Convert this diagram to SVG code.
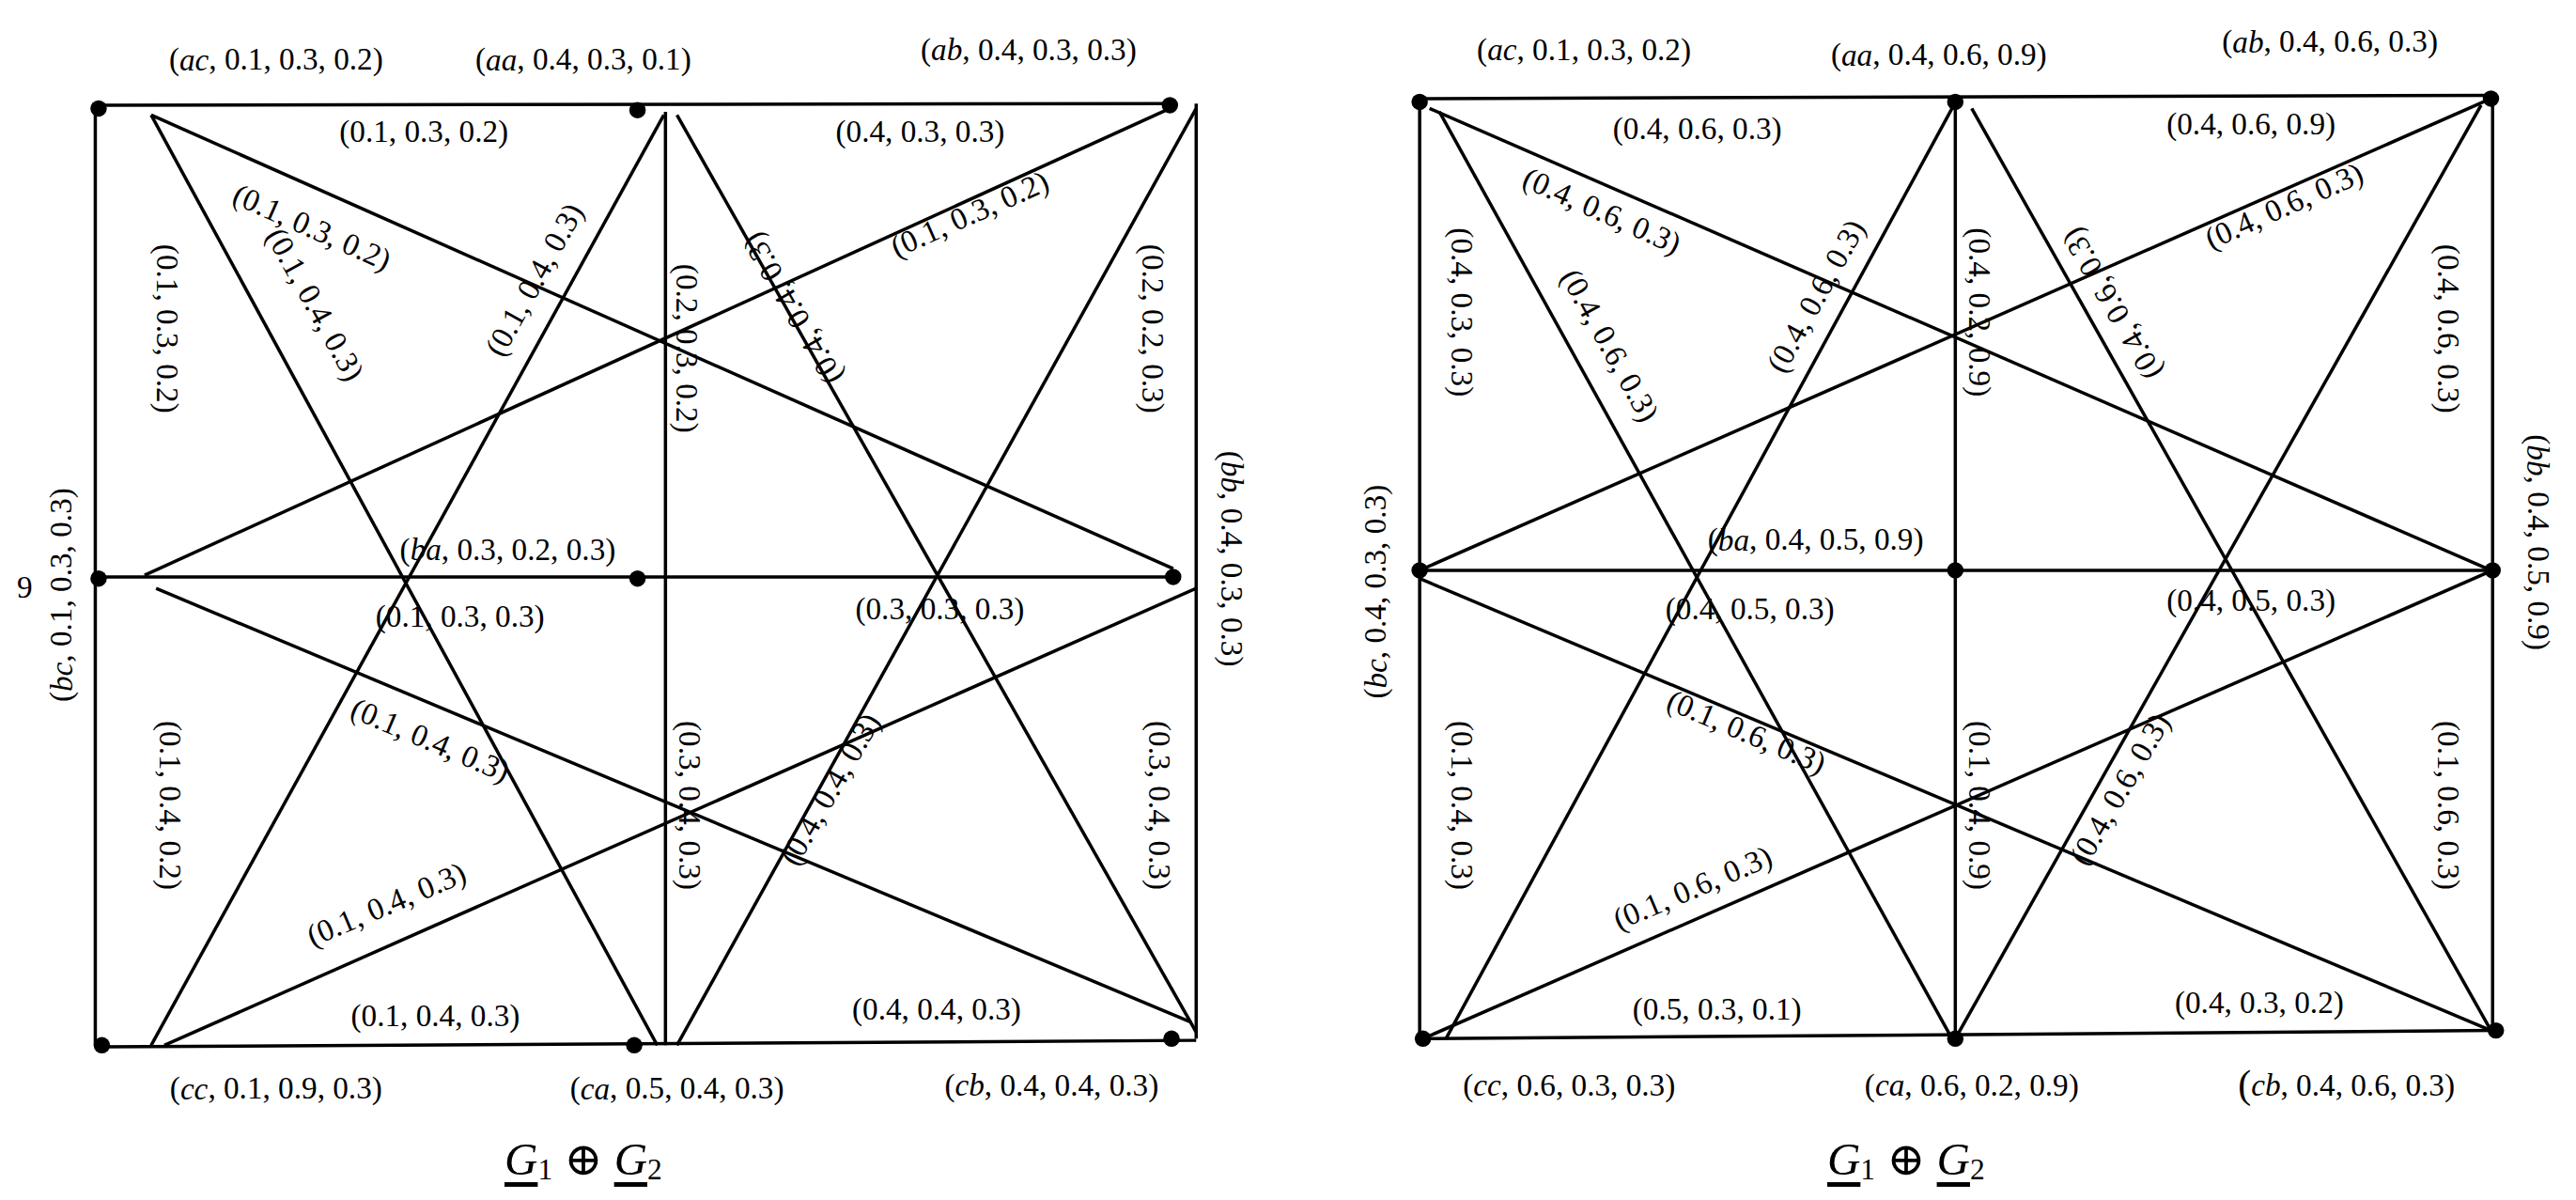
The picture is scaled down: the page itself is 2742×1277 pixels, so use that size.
<svg xmlns="http://www.w3.org/2000/svg" width="2742" height="1277" viewBox="0 0 2742 1277">
<style>
.e{stroke:#000;stroke-width:2;fill:none}
.n{fill:#000}
text{font-family:"Liberation Serif","DejaVu Serif",serif;font-size:19px;text-anchor:middle;dominant-baseline:central;fill:#000}
.t{font-size:28px}
</style>
<rect width="2742" height="1277" fill="#fff"/>
<g transform="scale(1.749)">
<g id="connectors">
<line class="e" x1="60" y1="64" x2="712" y2="63"/>
<line class="e" x1="58" y1="66" x2="58" y2="636"/>
<line class="e" x1="405" y1="68" x2="405" y2="636"/>
<line class="e" x1="728" y1="63" x2="728" y2="632"/>
<line class="e" x1="60" y1="351" x2="714" y2="351"/>
<line class="e" x1="62" y1="637" x2="728" y2="633"/>
<line class="e" x1="92" y1="70" x2="400" y2="636"/>
<line class="e" x1="404" y1="70" x2="92" y2="636"/>
<line class="e" x1="412" y1="70" x2="728" y2="628"/>
<line class="e" x1="728" y1="66" x2="412" y2="636"/>
<line class="e" x1="92" y1="70" x2="714" y2="346"/>
<line class="e" x1="88" y1="350" x2="712" y2="66"/>
<line class="e" x1="95" y1="358" x2="725" y2="622"/>
<line class="e" x1="100" y1="636" x2="728" y2="358"/>

<line class="e" x1="864" y1="60" x2="1516" y2="58"/>
<line class="e" x1="864" y1="62" x2="864" y2="632"/>
<line class="e" x1="1190" y1="62" x2="1190" y2="632"/>
<line class="e" x1="1517" y1="60" x2="1517" y2="627"/>
<line class="e" x1="864" y1="347" x2="1517" y2="347"/>
<line class="e" x1="866" y1="632" x2="1519" y2="627"/>
<line class="e" x1="876" y1="68" x2="1188" y2="632"/>
<line class="e" x1="1188" y1="66" x2="880" y2="632"/>
<line class="e" x1="1200" y1="66" x2="1516" y2="627"/>
<line class="e" x1="1510" y1="64" x2="1190" y2="632"/>
<line class="e" x1="870" y1="66" x2="1516" y2="347"/>
<line class="e" x1="864" y1="347" x2="1516" y2="60"/>
<line class="e" x1="864" y1="352" x2="1516" y2="627"/>
<line class="e" x1="866" y1="632" x2="1517" y2="347"/>
</g>
<g id="nodes">
<g id="L_ac"><circle class="n" cx="60" cy="66" r="5"/></g>
<g id="L_aa"><circle class="n" cx="388" cy="67" r="5"/></g>
<g id="L_ab"><circle class="n" cx="712" cy="64" r="5"/></g>
<g id="L_bc"><circle class="n" cx="60" cy="352" r="5"/></g>
<g id="L_ba"><circle class="n" cx="388" cy="352" r="5"/></g>
<g id="L_bb"><circle class="n" cx="714" cy="351" r="5"/></g>
<g id="L_cc"><circle class="n" cx="62" cy="636" r="5"/></g>
<g id="L_ca"><circle class="n" cx="386" cy="636" r="5"/></g>
<g id="L_cb"><circle class="n" cx="713" cy="632" r="5"/></g>
<g id="R_ac"><circle class="n" cx="864" cy="62" r="5"/></g>
<g id="R_aa"><circle class="n" cx="1190" cy="62" r="5"/></g>
<g id="R_ab"><circle class="n" cx="1516" cy="60" r="5"/></g>
<g id="R_bc"><circle class="n" cx="864" cy="347" r="5"/></g>
<g id="R_ba"><circle class="n" cx="1190" cy="347" r="5"/></g>
<g id="R_bb"><circle class="n" cx="1517" cy="347" r="5"/></g>
<g id="R_cc"><circle class="n" cx="866" cy="632" r="5"/></g>
<g id="R_ca"><circle class="n" cx="1190" cy="632" r="5"/></g>
<g id="R_cb"><circle class="n" cx="1519" cy="627" r="5"/></g>
</g>
<g id="labels">
<text x="168" y="36">(<tspan font-style="italic">ac</tspan>, 0.1, 0.3, 0.2)</text>
<text x="355" y="36">(<tspan font-style="italic">aa</tspan>, 0.4, 0.3, 0.1)</text>
<text x="626" y="30">(<tspan font-style="italic">ab</tspan>, 0.4, 0.3, 0.3)</text>
<text x="258" y="80">(0.1, 0.3, 0.2)</text>
<text x="560" y="80">(0.4, 0.3, 0.3)</text>
<text transform="translate(190,138) rotate(24)">(0.1, 0.3, 0.2)</text>
<text transform="translate(192,185) rotate(61)">(0.1, 0.4, 0.3)</text>
<text transform="translate(325,170) rotate(-61)">(0.1, 0.4, 0.3)</text>
<text transform="translate(102,200) rotate(90)">(0.1, 0.3, 0.2)</text>
<text transform="translate(418,212) rotate(90)">(0.2, 0.3, 0.2)</text>
<text transform="translate(482,188) rotate(240)">(0.4, 0.4, 0.3)</text>
<text transform="translate(590,130) rotate(-24)">(0.1, 0.3, 0.2)</text>
<text transform="translate(702,200) rotate(90)">(0.2, 0.2, 0.3)</text>
<text transform="translate(750,340) rotate(90)">(<tspan font-style="italic">bb</tspan>, 0.4, 0.3, 0.3)</text>
<text transform="translate(37,362) rotate(-90)">(<tspan font-style="italic">bc</tspan>, 0.1, 0.3, 0.3)</text>
<text x="15" y="357" font-size="26">9</text>
<text x="309" y="334">(<tspan font-style="italic">ba</tspan>, 0.3, 0.2, 0.3)</text>
<text x="280" y="375">(0.1, 0.3, 0.3)</text>
<text x="572" y="370">(0.3, 0.3, 0.3)</text>
<text transform="translate(104,490) rotate(90)">(0.1, 0.4, 0.2)</text>
<text transform="translate(262,450) rotate(23)">(0.1, 0.4, 0.3)</text>
<text transform="translate(420,490) rotate(90)">(0.3, 0.4, 0.3)</text>
<text transform="translate(505,480) rotate(-60)">(0.4, 0.4, 0.3)</text>
<text transform="translate(706,490) rotate(90)">(0.3, 0.4, 0.3)</text>
<text transform="translate(235,550) rotate(-23)">(0.1, 0.4, 0.3)</text>
<text x="265" y="618">(0.1, 0.4, 0.3)</text>
<text x="570" y="614">(0.4, 0.4, 0.3)</text>
<text x="168" y="662">(<tspan font-style="italic">cc</tspan>, 0.1, 0.9, 0.3)</text>
<text x="412" y="662">(<tspan font-style="italic">ca</tspan>, 0.5, 0.4, 0.3)</text>
<text x="640" y="660">(<tspan font-style="italic">cb</tspan>, 0.4, 0.4, 0.3)</text>
<text class="t" x="355" y="705"><tspan font-style="italic" text-decoration="underline">G</tspan><tspan font-size="18" dy="6">1</tspan><tspan dy="-6"> ⊕ </tspan><tspan font-style="italic" text-decoration="underline">G</tspan><tspan font-size="18" dy="6">2</tspan></text>

<text x="964" y="30">(<tspan font-style="italic">ac</tspan>, 0.1, 0.3, 0.2)</text>
<text x="1180" y="33">(<tspan font-style="italic">aa</tspan>, 0.4, 0.6, 0.9)</text>
<text x="1418" y="25">(<tspan font-style="italic">ab</tspan>, 0.4, 0.6, 0.3)</text>
<text x="1033" y="78">(0.4, 0.6, 0.3)</text>
<text x="1370" y="75">(0.4, 0.6, 0.9)</text>
<text transform="translate(975,128) rotate(24)">(0.4, 0.6, 0.3)</text>
<text transform="translate(980,210) rotate(61)">(0.4, 0.6, 0.3)</text>
<text transform="translate(1105,180) rotate(-61)">(0.4, 0.6, 0.3)</text>
<text transform="translate(890,190) rotate(90)">(0.4, 0.3, 0.3)</text>
<text transform="translate(1205,190) rotate(90)">(0.4, 0.2, 0.9)</text>
<text transform="translate(1285,185) rotate(240)">(0.4, 0.6, 0.3)</text>
<text transform="translate(1390,125) rotate(-24)">(0.4, 0.6, 0.3)</text>
<text transform="translate(1490,200) rotate(90)">(0.4, 0.6, 0.3)</text>
<text transform="translate(1545,330) rotate(90)">(<tspan font-style="italic">bb</tspan>, 0.4, 0.5, 0.9)</text>
<text transform="translate(837,360) rotate(-90)">(<tspan font-style="italic">bc</tspan>, 0.4, 0.3, 0.3)</text>
<text x="1105" y="328">(<tspan font-style="italic">ba</tspan>, 0.4, 0.5, 0.9)</text>
<text x="1065" y="370">(0.4, 0.5, 0.3)</text>
<text x="1370" y="365">(0.4, 0.5, 0.3)</text>
<text transform="translate(890,490) rotate(90)">(0.1, 0.4, 0.3)</text>
<text transform="translate(1063,445) rotate(23)">(0.1, 0.6, 0.3)</text>
<text transform="translate(1205,490) rotate(90)">(0.1, 0.4, 0.9)</text>
<text transform="translate(1290,480) rotate(-60)">(0.4, 0.6, 0.3)</text>
<text transform="translate(1490,490) rotate(90)">(0.1, 0.6, 0.3)</text>
<text transform="translate(1030,540) rotate(-23)">(0.1, 0.6, 0.3)</text>
<text x="1045" y="614">(0.5, 0.3, 0.1)</text>
<text x="1375" y="610">(0.4, 0.3, 0.2)</text>
<text x="955" y="660">(<tspan font-style="italic">cc</tspan>, 0.6, 0.3, 0.3)</text>
<text x="1200" y="660">(<tspan font-style="italic">ca</tspan>, 0.6, 0.2, 0.9)</text>
<text x="1428" y="660"><tspan font-size="24">(</tspan><tspan font-style="italic">cb</tspan>, 0.4, 0.6, 0.3)</text>
<text class="t" x="1160" y="705"><tspan font-style="italic" text-decoration="underline">G</tspan><tspan font-size="18" dy="6">1</tspan><tspan dy="-6"> ⊕ </tspan><tspan font-style="italic" text-decoration="underline">G</tspan><tspan font-size="18" dy="6">2</tspan></text>
</g>
</g>
</svg>
